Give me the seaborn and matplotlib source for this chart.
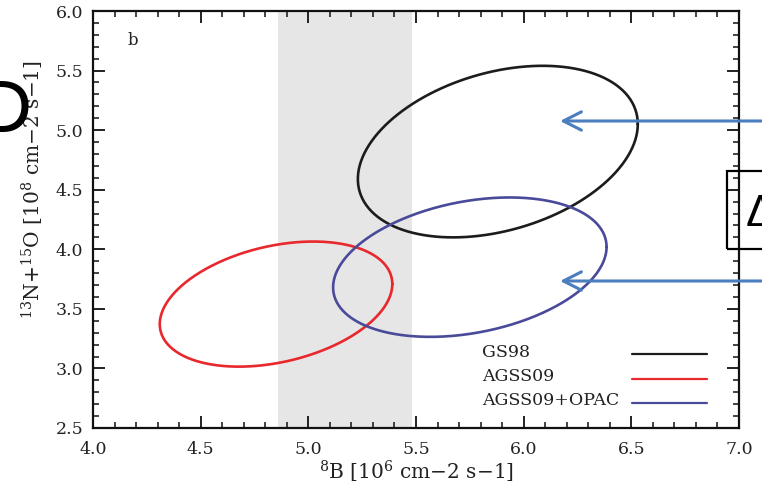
import numpy as np
import pandas as pd
import matplotlib
matplotlib.use("Agg")
import matplotlib.pyplot as plt
from matplotlib.patches import Rectangle
from matplotlib.ticker import MultipleLocator
import seaborn as sns

# Solar model flux predictions: centres, half-extents and correlation of each contour
models = ["GS98", "AGSS09", "AGSS09+OPAC"]
center_8B = [5.88, 4.85, 5.75]      # 10^6 cm-2 s-1
center_CNO = [4.82, 3.54, 3.85]     # 10^8 cm-2 s-1
err_8B = [0.65, 0.54, 0.635]
err_CNO = [0.72, 0.525, 0.585]
corr = [0.32, 0.32, 0.29]
colors = ["#1c1c1c", "#e8282d", "#4a4a9a"]

# Measured 8B flux band
band_8B = [4.86, 5.48]

tick_x = [4.0, 4.5, 5.0, 5.5, 6.0, 6.5, 7.0]
tick_y = [2.5, 3.0, 3.5, 4.0, 4.5, 5.0, 5.5, 6.0]

sns.set_theme(style="ticks")
plt.rcParams["font.family"] = ["DejaVu Serif"]
plt.rcParams["mathtext.fontset"] = "dejavuserif"

# Build contour outlines from the covariance parameters
t = np.linspace(0, 2 * np.pi, 400)
frames = []
for m, cx, cy, sx, sy, r in zip(models, center_8B, center_CNO, err_8B, err_CNO, corr):
    d = np.arccos(r)
    frames.append(pd.DataFrame({
        "B8": cx + sx * np.cos(t),
        "CNO": cy + sy * np.cos(t - d),
        "model": m,
        "step": np.arange(t.size),
    }))
df = pd.concat(frames, ignore_index=True)

fig = plt.figure(figsize=(7.62, 4.90), dpi=100)
ax = fig.add_axes([93 / 762, 62 / 490, 646 / 762, 417 / 490])

ax.axvspan(band_8B[0], band_8B[1], color="#e6e6e6", lw=0, zorder=0)

sns.lineplot(data=df, x="B8", y="CNO", hue="model", units="model",
             estimator=None, sort=False, palette=dict(zip(models, colors)),
             linewidth=1.9, legend=False, ax=ax, zorder=3)

ax.set_xlim(tick_x[0], tick_x[-1])
ax.set_ylim(tick_y[0], tick_y[-1])
ax.set_xticks(tick_x)
ax.set_yticks(tick_y)
ax.set_xticklabels([f"{v:.1f}" for v in tick_x])
ax.set_yticklabels([f"{v:.1f}" for v in tick_y])
ax.xaxis.set_minor_locator(MultipleLocator(0.1))
ax.yaxis.set_minor_locator(MultipleLocator(0.1))
ax.tick_params(which="both", direction="in", top=True, right=True,
               colors="#111111", labelcolor="#222222", labelsize=12.5)
ax.tick_params(which="major", length=8.5, width=1.3)
ax.tick_params(which="minor", length=4.5, width=1.1)
ax.tick_params(axis="x", which="major", pad=9)
ax.tick_params(axis="y", which="major", pad=7)
for s in ax.spines.values():
    s.set_linewidth(1.6)
    s.set_color("#111111")

ax.set_xlabel(r"$^{8}$B [10$^{6}$ cm$-$2 s$-$1]", fontsize=14.5, color="#222222", labelpad=1)
ax.set_ylabel(r"$^{13}$N+$^{15}$O [10$^{8}$ cm$-$2 s$-$1]", fontsize=14.5, color="#222222")
ax.yaxis.set_label_coords(-0.073, 0.571)

ax.text(0.053, 0.918, "b", transform=ax.transAxes, fontsize=12, color="#222222")

# Legend: labels on the left, line samples on the right
leg_text_x = (482 - 93) / 646
leg_line_x = [(632 - 93) / 646, (707 - 93) / 646]
leg_y = [(428 - 352) / 417, (428 - 376) / 417, (428 - 400) / 417]
line_y = [(428 - 354) / 417, (428 - 379) / 417, (428 - 403) / 417]
for m, c, ty, ly in zip(models, colors, leg_y, line_y):
    ax.text(leg_text_x, ty, m, transform=ax.transAxes, fontsize=12.5,
            color="#222222", va="center", ha="left")
    ax.plot(leg_line_x, [ly, ly], transform=ax.transAxes, color=c, lw=1.6)

# Slide annotations around the panel
arrow_color = "#4a7ebf"
for y_px in (121, 281):
    ax.annotate("", xy=(560, 490 - y_px), xycoords="figure pixels",
                xytext=(790, 490 - y_px), textcoords="figure pixels",
                arrowprops=dict(arrowstyle="->, head_length=0.65, head_width=0.33",
                                mutation_scale=20, color=arrow_color, lw=2.2,
                                shrinkA=0, shrinkB=0),
                annotation_clip=False)

fig.add_artist(Rectangle((727 / 762, 241 / 490), 0.2, 78 / 490,
                         transform=fig.transFigure, fill=False,
                         ec="black", lw=1.6))
fig.text(746 / 762, (490 - 226) / 490, "\u0394", fontsize=32,
         family="Liberation Sans", color="black", va="baseline", ha="left")
fig.text(32 / 762, (490 - 132) / 490, "D", fontsize=54,
         family="Liberation Sans", color="black", va="baseline", ha="right")

fig.savefig("out.png", dpi=100)
